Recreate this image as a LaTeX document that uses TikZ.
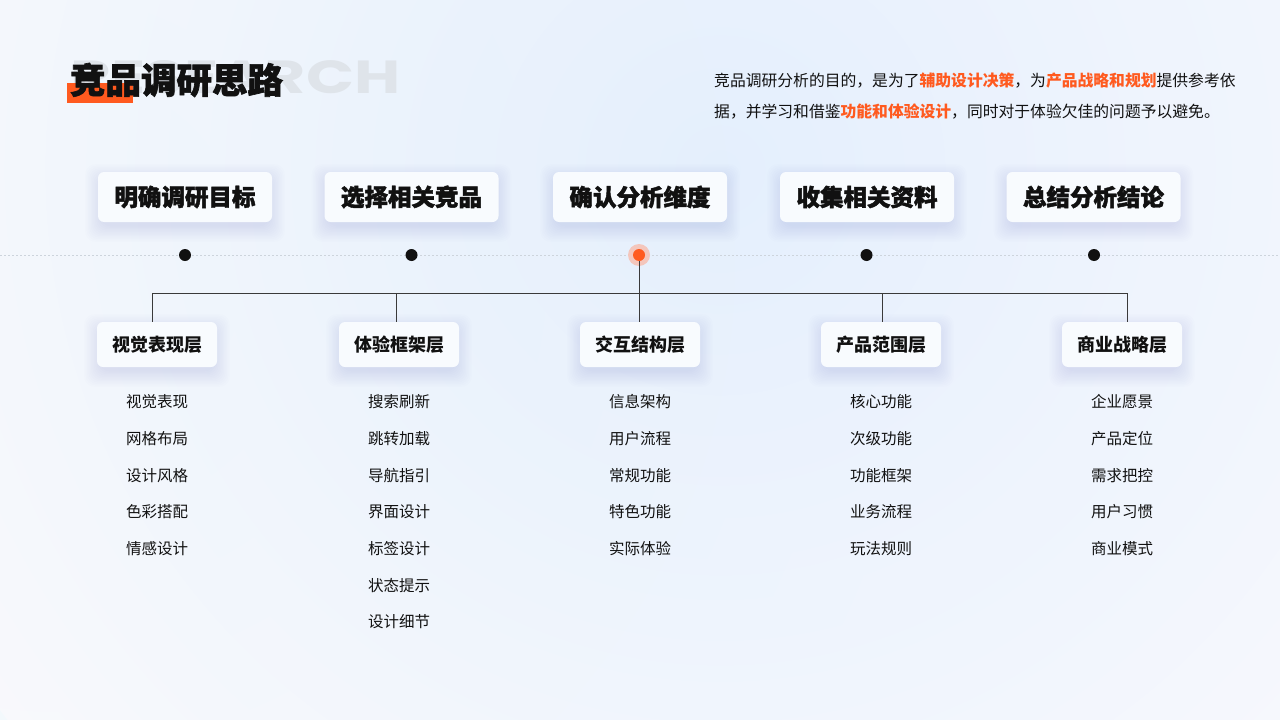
\documentclass[tikz,border=0pt]{standalone}
\usepackage{fontspec}
\newfontfamily\cjk{Noto Sans CJK SC}
\newfontfamily\cjkheavy[BoldFeatures={FakeBold=1.8}]{Noto Sans CJK SC}
\newfontfamily\wmfont{Poppins}
\usetikzlibrary{calc}
\definecolor{orangeA}{HTML}{FF5A1F}
\definecolor{inkc}{HTML}{111111}
\definecolor{linec}{HTML}{3A3A3A}
\definecolor{dotc}{HTML}{CDD4DC}
\definecolor{wmc}{HTML}{DFE4EA}
\definecolor{halo}{HTML}{F4C6BC}
\definecolor{bgbase}{HTML}{F9F9FD}
\definecolor{bgblue}{HTML}{E3EFFD}
\definecolor{bgcyan}{HTML}{EDF8FB}
\definecolor{boxc}{HTML}{F8FBFE}
\definecolor{shadc}{HTML}{4A5C8A}
\newcommand\mysoftshadow[4]{%
  \foreach \k in {1,...,12} {
    \fill[shadc, opacity=0.0075, rounded corners=10pt]
      ({#1-#3/2-1.4*\k+4},{#2-#4/2-1.4*\k+9}) rectangle ({#1+#3/2+1.4*\k-4},{#2+#4/2+1.4*\k+3});
  }}
\tikzset{
  stepbox/.style={rounded corners=6pt, fill=boxc, minimum width=174pt, minimum height=50pt, inner sep=0pt, text=inkc, font=\cjkheavy\bfseries\fontsize{23.5}{23.5}\selectfont},
  layerbox/.style={rounded corners=6pt, fill=boxc, minimum width=120pt, minimum height=45pt, inner sep=0pt, text=inkc, font=\cjk\bfseries\fontsize{18}{18}\selectfont},
  itemtxt/.style={inner sep=0pt, text=inkc, font=\cjk\fontsize{15.5}{15.5}\selectfont},
  dotn/.style={circle, fill=inkc, minimum size=12pt, inner sep=0pt},
  conn/.style={draw=linec, line width=1pt},
  desc/.style={inner sep=0pt, anchor=west, text=inkc, font=\cjk\fontsize{15.8}{15.8}\selectfont}
}
\begin{document}
\begin{tikzpicture}[x=1pt,y=-1pt]
\useasboundingbox (0,0) rectangle (1280,720);
% background
\fill[bgbase] (0,0) rectangle (1280,720);
\begin{scope}
\clip (0,0) rectangle (1280,720);
\shade[inner color=bgcyan, outer color=bgbase] (60,260) circle (900);
\shade[inner color=bgblue, outer color=bgbase, opacity=0.9] (720,170) circle (900);
\end{scope}
% watermark and title
\node[anchor=base west, inner sep=0pt, text=wmc] (wm) at (70,93) {\resizebox{330pt}{33pt}{\wmfont\bfseries RESEARCH}};
\fill[orangeA] (67,83) rectangle (133,103);
\node[inner sep=0pt, text=inkc, font=\cjkheavy\bfseries\fontsize{35.5}{35.5}\selectfont] (title) at (176.5,80) {竞品调研思路};
% description
\node[desc] (dsc1) at (714,81) {竞品调研分析的目的，是为了{\color{orangeA}\bfseries 辅助设计决策}，为{\color{orangeA}\bfseries 产品战略和规划}提供参考依};
\node[desc] (dsc2) at (714,111) {据，并学习和借鉴{\color{orangeA}\bfseries 功能和体验设计}，同时对于体验欠佳的问题予以避免。};
% dotted timeline
\coordinate (tl) at (0,255);
\coordinate (tr) at (1280,255);
\draw[dotc, line width=1pt, dash pattern=on 2pt off 2pt] (tl) -- (tr);
% shadows
\foreach \x in {185,411.5,640,867,1093.5} { \mysoftshadow{\x}{197}{174}{50} }
\foreach \x in {157,399,640,881,1122} { \mysoftshadow{\x}{344.5}{120}{45} }
% step boxes
\node[stepbox] (s1) at (185,197) {明确调研目标};
\node[stepbox] (s2) at (411.5,197) {选择相关竞品};
\node[stepbox] (s3) at (640,197) {确认分析维度};
\node[stepbox] (s4) at (867,197) {收集相关资料};
\node[stepbox] (s5) at (1093.5,197) {总结分析结论};
% dots
\node[dotn] (d1) at (185,255) {};
\node[dotn] (d2) at (411.5,255) {};
\node[circle, fill=halo, minimum size=22pt, inner sep=0pt] (h3) at (639,255) {};
\node[circle, fill=orangeA, minimum size=12pt, inner sep=0pt] (d3) at (639,255) {};
\node[dotn] (d4) at (866.5,255) {};
\node[dotn] (d5) at (1094,255) {};
% layer boxes
\node[layerbox] (l1) at (157,344.5) {视觉表现层};
\node[layerbox] (l2) at (399,344.5) {体验框架层};
\node[layerbox] (l3) at (640,344.5) {交互结构层};
\node[layerbox] (l4) at (881,344.5) {产品范围层};
\node[layerbox] (l5) at (1122,344.5) {商业战略层};
% tree connectors
\coordinate (bar) at (639,293);
\coordinate (j1) at (152,293);
\coordinate (j2) at (396,293);
\coordinate (j3) at (639,293);
\coordinate (j4) at (882,293);
\coordinate (j5) at (1127,293);
\draw[conn] (d3.south) -- (bar);
\draw[conn] (j1) -- (j5);
\draw[conn] (j1) -- (j1 |- l1.north);
\draw[conn] (j2) -- (j2 |- l2.north);
\draw[conn] (j3) -- (j3 |- l3.north);
\draw[conn] (j4) -- (j4 |- l4.north);
\draw[conn] (j5) -- (j5 |- l5.north);
% items
\foreach \t [count=\i] in {视觉表现,网格布局,设计风格,色彩搭配,情感设计}
  \node[itemtxt] (a\i) at (157,{402+36.67*(\i-1)}) {\t};
\foreach \t [count=\i] in {搜索刷新,跳转加载,导航指引,界面设计,标签设计,状态提示,设计细节}
  \node[itemtxt] (b\i) at (399,{402+36.67*(\i-1)}) {\t};
\foreach \t [count=\i] in {信息架构,用户流程,常规功能,特色功能,实际体验}
  \node[itemtxt] (c\i) at (640,{402+36.67*(\i-1)}) {\t};
\foreach \t [count=\i] in {核心功能,次级功能,功能框架,业务流程,玩法规则}
  \node[itemtxt] (e\i) at (881,{402+36.67*(\i-1)}) {\t};
\foreach \t [count=\i] in {企业愿景,产品定位,需求把控,用户习惯,商业模式}
  \node[itemtxt] (f\i) at (1122,{402+36.67*(\i-1)}) {\t};
\end{tikzpicture}
\end{document}
